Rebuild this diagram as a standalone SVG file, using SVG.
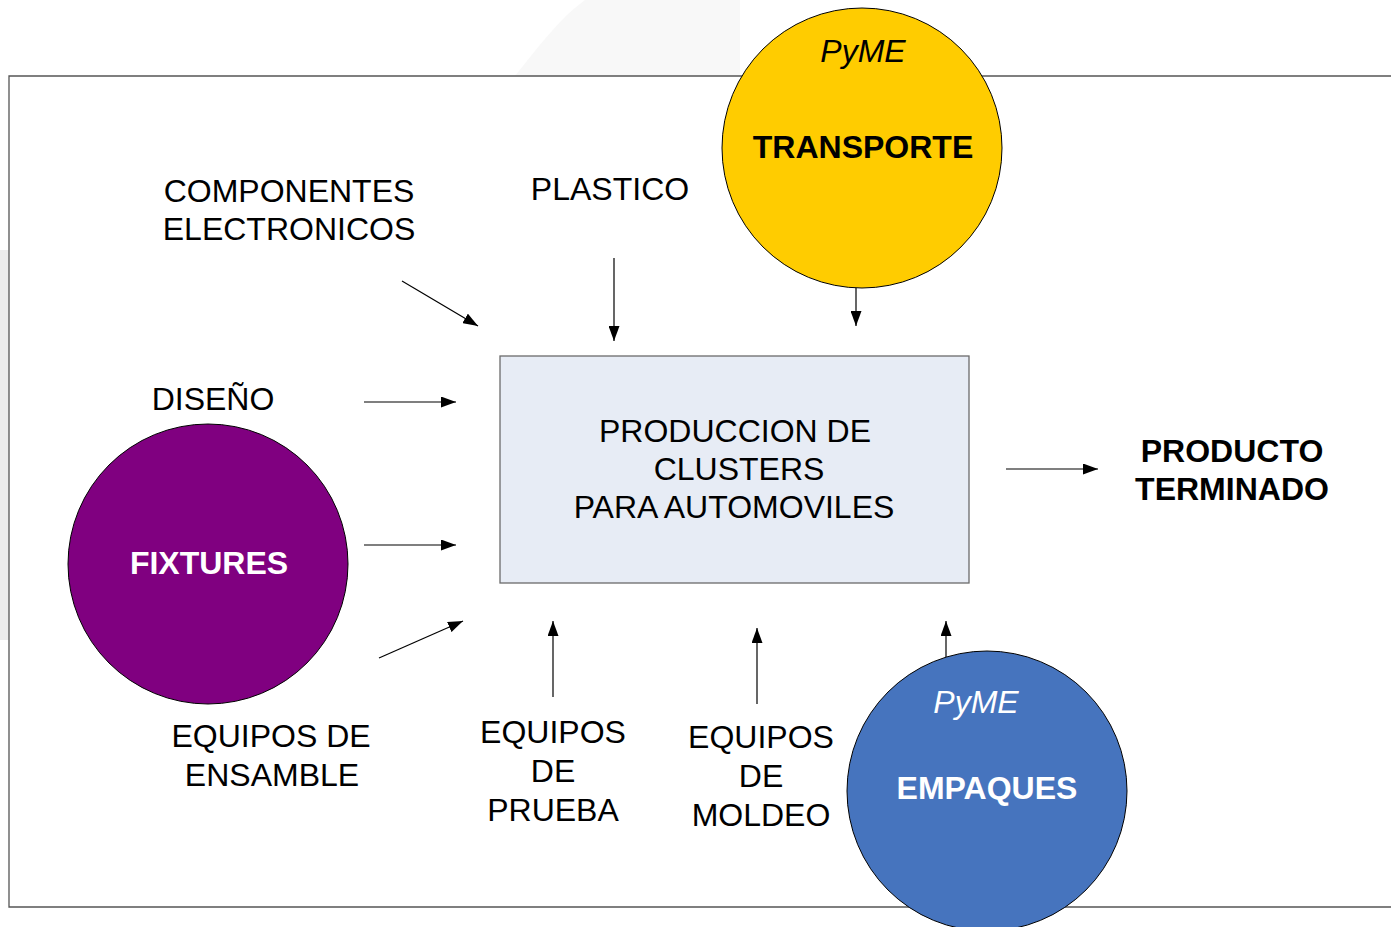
<svg xmlns="http://www.w3.org/2000/svg" width="1391" height="927" viewBox="0 0 1391 927">
  <defs>
    <style>
      .t { font-family: "Liberation Sans", Arial, sans-serif; font-size: 32px; text-anchor: middle; fill: #000; }
      .b { font-weight: bold; }
      .i { font-style: italic; }
      .w { fill: #fff; }
      .c { stroke: #000; stroke-width: 1; }
      .ln { stroke: #000; stroke-width: 1.2; fill: none; marker-end: url(#ah); }
    </style>
    <marker id="ah" viewBox="0 0 15 11" refX="15" refY="5.5" markerWidth="15" markerHeight="11" markerUnits="userSpaceOnUse" orient="auto">
      <path d="M0,0 L15,5.5 L0,11 Z" fill="#000"/>
    </marker>
  </defs>
  <rect width="1391" height="927" fill="#fff"/>
  <!-- faint background watermark -->
  <path d="M515,76 C540,45 560,18 585,0 L740,0 L740,76 Z" fill="#f8f8f8"/>
  <rect x="0" y="250" width="9" height="390" fill="#ececec"/>
  <!-- frame -->
  <path d="M1395,76 L9,76 L9,907 L1395,907" fill="none" stroke="#555" stroke-width="1.3"/>

  <g id="connectors">
    <line class="ln" x1="402" y1="281" x2="478" y2="326"/>
    <line class="ln" x1="614" y1="258" x2="614" y2="341"/>
    <line class="ln" x1="856" y1="288" x2="856" y2="326"/>
    <line class="ln" x1="364" y1="402" x2="456" y2="402"/>
    <line class="ln" x1="364" y1="545" x2="456" y2="545"/>
    <line class="ln" x1="379" y1="658" x2="463" y2="621"/>
    <line class="ln" x1="553" y1="697" x2="553" y2="621"/>
    <line class="ln" x1="757" y1="704" x2="757" y2="628"/>
    <line class="ln" x1="946" y1="658" x2="946" y2="621"/>
    <line class="ln" x1="1006" y1="469" x2="1098" y2="469"/>
  </g>

  <g id="transporte">
    <circle class="c" cx="862" cy="148" r="140" fill="#FFCC00"/>
    <text class="t i" x="863" y="62">PyME</text>
    <text class="t b" x="863" y="158">TRANSPORTE</text>
  </g>

  <g id="fixtures">
    <circle class="c" cx="208" cy="564" r="140" fill="#800080"/>
    <text class="t b w" x="209" y="574">FIXTURES</text>
  </g>

  <g id="empaques">
    <circle class="c" cx="987" cy="791" r="140" fill="#4674BE"/>
    <text class="t i w" x="976" y="713">PyME</text>
    <text class="t b w" x="987" y="799">EMPAQUES</text>
  </g>

  <g id="produccion">
    <rect x="500" y="356" width="469" height="227" fill="#E7ECF5" stroke="#6b6b6b" stroke-width="1.3"/>
    <text class="t" x="735" y="442">PRODUCCION DE</text>
    <text class="t" x="739" y="480">CLUSTERS</text>
    <text class="t" x="734" y="518">PARA AUTOMOVILES</text>
  </g>

  <g id="componentes">
    <text class="t" x="289" y="202">COMPONENTES</text>
    <text class="t" x="289" y="240">ELECTRONICOS</text>
  </g>
  <g id="plastico">
    <text class="t" x="610" y="200">PLASTICO</text>
  </g>
  <g id="diseno">
    <text class="t" x="213" y="410">DISEÑO</text>
  </g>
  <g id="ensamble">
    <text class="t" x="271" y="747">EQUIPOS DE</text>
    <text class="t" x="272" y="786">ENSAMBLE</text>
  </g>
  <g id="prueba">
    <text class="t" x="553" y="743">EQUIPOS</text>
    <text class="t" x="553" y="782">DE</text>
    <text class="t" x="553" y="821">PRUEBA</text>
  </g>
  <g id="moldeo">
    <text class="t" x="761" y="748">EQUIPOS</text>
    <text class="t" x="761" y="787">DE</text>
    <text class="t" x="761" y="826">MOLDEO</text>
  </g>
  <g id="producto">
    <text class="t b" x="1232" y="462">PRODUCTO</text>
    <text class="t b" x="1232" y="500">TERMINADO</text>
  </g>
</svg>
